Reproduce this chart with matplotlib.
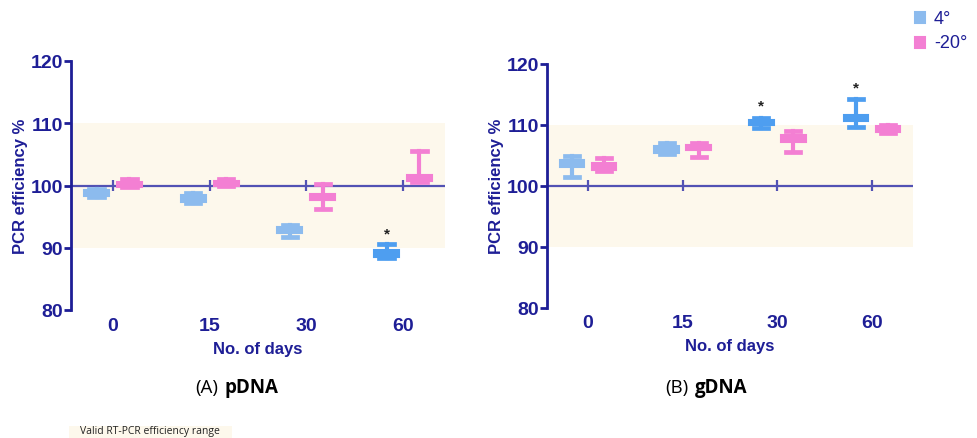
import matplotlib
matplotlib.use("Agg")
import matplotlib.pyplot as plt

days = ["0", "15", "30", "60"]
series = ["4°", "-20°"]

# panel A: pDNA  (whislo, q1, med, q3, whishi) per day
pdna_4 = [(98.1, 98.3, 98.8, 99.3, 99.4),
          (97.2, 97.4, 97.9, 98.5, 98.8),
          (91.8, 92.4, 92.9, 93.4, 93.6),
          (88.4, 88.5, 89.0, 89.6, 90.6)]
pdna_m20 = [(99.7, 99.8, 100.2, 100.6, 101.1),
            (99.9, 100.0, 100.4, 100.8, 101.1),
            (96.3, 97.6, 98.1, 98.7, 100.2),
            (100.6, 100.7, 101.2, 101.7, 105.5)]
# panel B: gDNA
gdna_4 = [(101.4, 103.0, 103.6, 104.2, 104.9),
          (105.1, 105.3, 105.8, 106.4, 107.0),
          (109.5, 109.9, 110.3, 110.8, 111.1),
          (109.6, 110.5, 111.0, 111.6, 114.1)]
gdna_m20 = [(102.3, 102.6, 103.1, 103.7, 104.5),
            (104.7, 105.8, 106.2, 106.7, 106.9),
            (105.5, 107.2, 107.8, 108.3, 108.9),
            (108.6, 108.8, 109.3, 109.8, 109.9)]
sig_a = [None, None, None, 92.3]      # asterisks over 4° boxes
sig_b = [None, None, 113.2, 116.1]
dark_a = [False, False, False, True]
dark_b = [False, False, True, True]

NAVY = "#1e1e96"
LINE = "#5252b4"
BAND = "#fdf8ec"
BLUE = "#8cbbee"
BLUE_D = "#4e9ef0"
PINK = "#f37fd3"

plt.rcParams["font.family"] = ["Liberation Sans", "DejaVu Sans"]

fig = plt.figure(figsize=(9.77, 4.39), dpi=100)
axA = fig.add_axes([71/977, 1-311/439, 374/977, 249/439])
axB = fig.add_axes([547/977, 1-308.5/439, 366/977, 244/439])

def stats(t):
    lo, q1, med, q3, hi = t
    return dict(whislo=lo, q1=q1, med=med, q3=q3, whishi=hi, fliers=[])

def draw(ax, s4, s20, sig, dark):
    ax.set_xlim(-0.434, 3.434)
    ax.set_ylim(80, 120)
    ax.axhspan(90, 110, color=BAND, zorder=0, lw=0)
    ax.axhline(100, color=LINE, lw=1.6, zorder=1)
    idx = list(range(len(days)))
    ax.vlines(idx, 99.1, 100.9, color=LINE, lw=1.6, zorder=1)
    for vals, off, is_blue in [(s4, -0.17, True), (s20, 0.17, False)]:
        for i, t in enumerate(vals):
            c = (BLUE_D if dark[i] else BLUE) if is_blue else PINK
            ax.bxp([stats(t)], positions=[i + off], widths=0.26,
                   capwidths=0.15, patch_artist=True, showfliers=False,
                   boxprops=dict(facecolor=c, edgecolor=c, lw=1.5),
                   whiskerprops=dict(color=c, lw=3.0),
                   capprops=dict(color=c, lw=3.4),
                   medianprops=dict(color=c, lw=1.5),
                   manage_ticks=False, zorder=3)
    for i, v in enumerate(sig):
        if v is not None:
            ax.text(i - 0.17, v, "*", ha="center", va="center",
                    fontsize=11, color="#222222", fontweight="bold")
    ax.set_xticks(idx)
    ax.set_xticklabels(days)
    ax.set_yticks([80, 90, 100, 110, 120])
    for sp in ["top", "right", "bottom"]:
        ax.spines[sp].set_visible(False)
    ax.spines["left"].set_color(NAVY)
    ax.spines["left"].set_linewidth(2)
    ax.tick_params(axis="y", colors=NAVY, width=2, length=5, labelsize=14, pad=1)
    ax.tick_params(axis="x", length=0, colors=NAVY, labelsize=14, pad=5)
    for lab in ax.get_xticklabels() + ax.get_yticklabels():
        lab.set_fontweight("bold")
    ax.set_ylabel("PCR efficiency %", color=NAVY, fontsize=12,
                  fontweight="bold", labelpad=2)
    ax.set_xlabel("No. of days", color=NAVY, fontsize=12,
                  fontweight="bold", labelpad=5)
    ax.patch.set_alpha(0)

draw(axA, pdna_4, pdna_m20, sig_a, dark_a)
draw(axB, gdna_4, gdna_m20, sig_b, dark_b)

# legend
for k, (lab, c, yy) in enumerate([(series[0], BLUE, 19), (series[1], PINK, 44)]):
    fig.patches.append(plt.Rectangle((915/977, 1-(yy+5)/439), 10/977, 11/439,
                                     transform=fig.transFigure, facecolor=c,
                                     edgecolor=c, lw=1.5))
    fig.text(934/977, 1-yy/439, lab, color=NAVY, fontsize=13, va="center", ha="left")

# captions
capfam = ["Open Sans", "DejaVu Sans"]
fig.text(195/977, 1-388/439, "(A)", fontsize=13.5, va="center", ha="left", family=capfam)
fig.text(225/977, 1-388/439, "pDNA", fontsize=13.5, fontweight="bold", va="center", ha="left", family=capfam)
fig.text(665/977, 1-388/439, "(B)", fontsize=13.5, va="center", ha="left", family=capfam)
fig.text(695/977, 1-388/439, "gDNA", fontsize=13.5, fontweight="bold", va="center", ha="left", family=capfam)

fig.patches.append(plt.Rectangle((69/977, 0), 163/977, 12/439,
                                 transform=fig.transFigure, facecolor=BAND,
                                 edgecolor="none"))
fig.text(80/977, 1-432/439, "Valid RT-PCR efficiency range", fontsize=7.5,
         va="center", ha="left", family=capfam, color="#222222")

fig.savefig("out.png", dpi=100)
